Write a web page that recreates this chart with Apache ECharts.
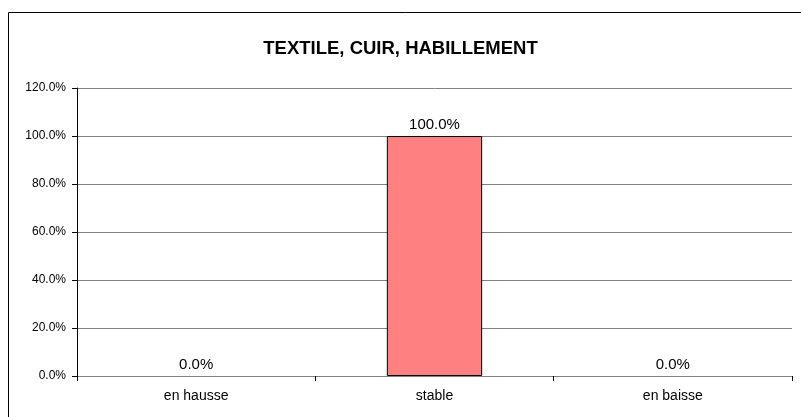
<!DOCTYPE html>
<html><head><meta charset="utf-8">
<script src="https://cdn.jsdelivr.net/npm/echarts@6/dist/echarts.min.js"></script>
<style>html,body{margin:0;padding:0;background:#fff}#c{width:801px;height:417px}</style>
</head><body><div id="c"></div>
<script>
const titleText = 'TEXTILE, CUIR, HABILLEMENT';
const categories = ['en hausse', 'stable', 'en baisse'];
const values = [0, 100, 0];
const yMin = 0, yMax = 120, yStep = 20;

const chart = echarts.init(document.getElementById('c'), null, {renderer: 'canvas'});
chart.setOption({
  animation: false,
  backgroundColor: '#fff',
  title: {
    text: titleText, left: 'center', top: 34,
    textStyle: {fontFamily: 'Liberation Sans', fontWeight: 'bold', fontSize: 18.5, color: '#000'}
  },
  grid: {left: 77, right: 9, top: 88, bottom: 41, containLabel: false},
  xAxis: {
    type: 'category', data: categories,
    axisLine: {lineStyle: {color: '#808080', width: 1}},
    axisTick: {show: true, length: 5, lineStyle: {color: '#000'}},
    axisLabel: {fontFamily: 'Liberation Sans', fontSize: 14, color: '#000', margin: 13}
  },
  yAxis: {
    type: 'value', min: yMin, max: yMax, interval: yStep,
    axisLine: {show: true, lineStyle: {color: '#000', width: 1}},
    axisTick: {show: true, length: 5, lineStyle: {color: '#000'}},
    axisLabel: {fontFamily: 'Liberation Sans', fontSize: 12, color: '#000', margin: 11,
      formatter: v => v.toFixed(1) + '%'},
    splitLine: {show: true, lineStyle: {color: '#808080', width: 1}}
  },
  series: [{
    type: 'bar',
    data: values.map(v => ({value: v, itemStyle: {borderWidth: v === 0 ? 0 : 1}})),
    barWidth: '40%',
    itemStyle: {color: '#FF8080', borderColor: '#000', borderWidth: 1},
    label: {show: true, position: 'top', distance: 4, fontFamily: 'Liberation Sans', fontSize: 15, color: '#000',
      formatter: p => p.value.toFixed(1) + '%'}
  }],
  graphic: [{
    type: 'rect', silent: true,
    shape: {x: 8.5, y: 12.5, width: 900, height: 600},
    style: {fill: null, stroke: '#000', lineWidth: 1}
  }]
});
</script></body></html>
